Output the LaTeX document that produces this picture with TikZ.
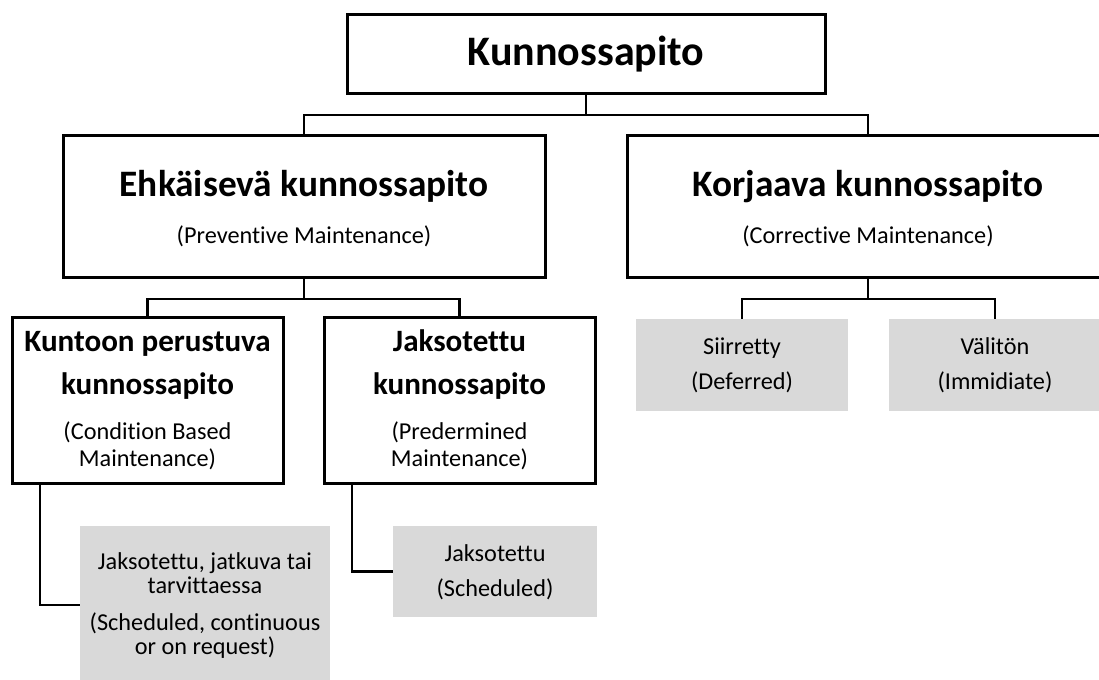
\documentclass[tikz,border=0pt]{standalone}
\usepackage{fontspec}
\setmainfont{Carlito}[Ligatures=NoCommon]
\definecolor{boxgray}{RGB}{217,217,217}
\begin{document}
\begin{tikzpicture}[x=0.75pt,y=-0.75pt,
  bx/.style 2 args={draw=black, line width=2.25pt, fill=white, rectangle, inner sep=0pt,
    minimum width=#1*0.75pt, minimum height=#2*0.75pt},
  gx/.style 2 args={fill=boxgray, rectangle, inner sep=0pt,
    minimum width=#1*0.75pt, minimum height=#2*0.75pt},
  conn/.style={draw=black, line width=1.6pt},
  ttop/.style={font=\fontsize{31.5}{36}\selectfont\bfseries, inner sep=0pt, anchor=base},
  tmid/.style={font=\fontsize{28}{32}\selectfont\bfseries, inner sep=0pt, anchor=base},
  tlow/.style={font=\fontsize{23.3}{27}\selectfont\bfseries, inner sep=0pt, anchor=base},
  tsm/.style={font=\fontsize{18.2}{21}\selectfont, inner sep=0pt, anchor=base},
  tpar/.style={font=\fontsize{18.2}{18}\selectfont, inner sep=0pt, align=center, anchor=base},
]
\useasboundingbox (0,0) rectangle (1099,680);
\clip (0,0) rectangle (1099,680);

% boxes
\node[bx={478}{79}] (top) at (586,54.5) {};
\node[bx={482}{142}] (pm) at (304,207) {};
\node[bx={482}{142}] (cm) at (868,207) {};
\node[bx={271}{166}] (cbm) at (147.5,401) {};
\node[bx={271}{166}] (pdm) at (459.5,401) {};
\node[gx={250}{158}] (g1) at (205,605) {};
\node[gx={204}{91}] (g2) at (495,571.5) {};
\node[gx={212}{92}] (g3) at (742,365) {};
\node[gx={212}{92}] (g4) at (995,365) {};

% texts
\node[ttop] (topT) at (586,66) {Kunnossapito};
\node[tmid] (pmT) at (304,197) {Ehkäisevä kunnossapito};
\node[tsm] (pmS) at (304,244) {(Preventive Maintenance)};
\node[tmid] (cmT) at (868,197) {Korjaava kunnossapito};
\node[tsm] (cmS) at (868,244) {(Corrective Maintenance)};

\node[tlow] (cbmT1) at (147.5,352) {Kuntoon perustuva};
\node[tlow] (cbmT2) at (147.5,395) {kunnossapito};
\node[tsm] (cbmS1) at (147.5,440) {(Condition Based};
\node[tsm] (cbmS2) at (147.5,467) {Maintenance)};

\node[tlow] (pdmT1) at (459.5,352) {Jaksotettu};
\node[tlow] (pdmT2) at (459.5,395) {kunnossapito};
\node[tsm] (pdmS1) at (459.5,440) {(Predermined};
\node[tsm] (pdmS2) at (459.5,467) {Maintenance)};

\node[tpar] (g1a) at (205,593) {Jaksotettu, jatkuva tai\\tarvittaessa};
\node[tpar] (g1c) at (205,654) {(Scheduled, continuous\\or on request)};

\node[tsm] (g2a) at (495,561) {Jaksotettu};
\node[tsm] (g2b) at (495,596) {(Scheduled)};

\node[tsm] (g3a) at (742,355) {Siirretty};
\node[tsm] (g3b) at (742,390) {(Deferred)};

\node[tsm] (g4a) at (995,355) {Välitön};
\node[tsm] (g4b) at (995,390) {(Immidiate)};

% connectors
\coordinate (b1) at (586,115);
\coordinate (b2) at (304,299);
\coordinate (b3) at (868,299);
\draw[conn] (top.south) -- (b1);
\draw[conn] (pm.north) |- (b1) -| (cm.north);
\draw[conn] (pm.south) -- (b2);
\draw[conn] (cbm.north) |- (b2) -| (pdm.north);
\draw[conn] (cm.south) -- (b3);
\draw[conn] (g3.north) |- (b3) -| (g4.north);
\draw[conn] (cbm.south west) ++(29.5,0) |- (g1.west);
\draw[conn] (pdm.south west) ++(29.5,0) |- (g2.west);
\end{tikzpicture}
\end{document}
